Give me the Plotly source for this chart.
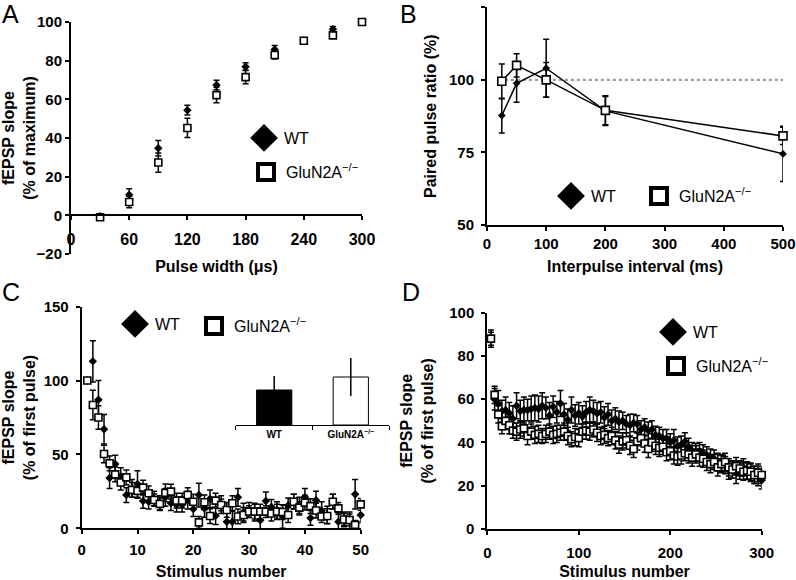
import plotly.graph_objects as go

# ---------------- data ----------------
# Panel A: input-output
pulse_width = [30, 60, 90, 120, 150, 180, 210, 240, 270, 300]
wt_a = [-0.5, 10.7, 34.7, 54.4, 67.4, 76.9, 85.8, 90.5, 96.2, 100]
wt_a_err = [1, 3, 4, 2.5, 2.5, 2, 2, 1, 1.5, 0]
glu_a = [-1, 6.9, 27.3, 45.2, 62.2, 71.5, 82.9, 90.3, 93.1, 100]
glu_a_err = [1, 3, 5, 5, 4, 3.5, 2, 1, 1.5, 0]

# Panel B: paired pulse ratio
ipi = [25, 50, 100, 200, 500]
wt_b = [87.7, 98.8, 104, 89.3, 74.5]
wt_b_err = [6, 6.5, 10, 5, 9.5]
glu_b = [99.5, 105, 100, 89.5, 80.7]
glu_b_err = [6, 4, 6, 5, 3]
ppr_ref_x = [20, 500]
ppr_ref_level = 100

# Panel C: 50 stimuli
stim_c = list(range(1, 51))
wt_c = [100, 113, 87, 67, 34, 43.5, 35, 22.5, 27, 30,
        18.5, 18, 20, 17, 21, 17, 16, 16, 19, 13,
        22.5, 13.5, 20, 8.5, 16, 4.5, 4.5, 21, 11, 12.5,
        11, 5.5, 18.5, 14.5, 12, 8, 15.5, 18, 15, 21,
        7, 19, 12, 9, 18, 4.5, 6, 5, 23, 9]
wt_c_err = [0, 14, 13, 10, 7, 6, 6, 5, 6, 9,
            5, 5, 5, 5, 6, 5, 5, 5, 6, 5,
            8, 6, 6, 6, 6, 6, 7, 6, 6, 5,
            6, 7, 6, 5, 6, 8, 5, 5, 6, 6,
            5, 6, 6, 6, 5, 6, 5, 6, 10, 5]
glu_c = [100, 83.5, 75, 50.3, 44, 36.5, 31, 34.5, 26, 25.3,
         27.5, 23.7, 19.2, 16.5, 24, 24.8, 18.7, 18.7, 22.5, 18,
         4, 17.6, 8.3, 18.7, 15.8, 12.4, 17, 8, 9, 11.3,
         11.3, 11.3, 11.3, 10, 11.3, 11, 9, 18, 14, 17.4,
         15, 12, 8, 8.3, 18, 13.5, 6, 5.6, 2.3, 16.2]
glu_c_err = [0, 10, 8, 6, 5, 5, 5, 5, 5, 5,
             5, 5, 4, 4, 6, 5, 5, 5, 5, 5,
             4, 5, 5, 5, 4, 5, 5, 5, 5, 4,
             5, 5, 4, 5, 5, 5, 5, 5, 4, 5,
             5, 5, 4, 5, 5, 4, 4, 4, 3, 4]

# Panel C inset
inset_groups = ["WT", "GluN2A<sup>−/−</sup>"]
inset_values = [3.5, 4.8]
inset_err = [1.4, 1.9]

# Panel D: 300 stimuli (binned)
stim_d = list(range(4, 301, 4))
wt_d = [88, 60, 58, 54.5, 55, 53.5, 51, 57, 54.5, 55,
        55, 55.5, 56, 55.5, 57, 56, 52.5, 56.5, 54, 58,
        53, 50.5, 55, 52.5, 53.5, 52, 54, 55, 54.5, 53.5,
        54, 51.5, 53, 50, 51, 49.5, 50, 48.5, 48, 49,
        48.5, 46, 47, 45.5, 46, 43.5, 43, 42, 42, 40,
        41, 38.5, 39, 40.5, 38, 36, 35.5, 36, 35, 34,
        33, 32.5, 31, 30.5, 29.5, 27, 27.5, 26, 27, 28.5,
        27, 26, 25, 24, 22.5]
wt_d_err = [4, 5, 6, 5, 6, 5, 6, 6, 5, 6, 5, 6, 6, 6, 6,
            5, 6, 5, 5, 6, 5, 5, 6, 5, 5, 5, 5, 6, 5, 5,
            5, 5, 5, 5, 5, 5, 4, 4, 5, 4, 4, 4, 4, 4, 4,
            4, 4, 4, 4, 4, 5, 4, 4, 4, 4, 4, 4, 4, 4, 4,
            4, 4, 4, 4, 4, 4, 4, 5, 4, 4, 4, 4, 4, 4, 4]
glu_d = [88, 62, 53, 47.5, 50, 48, 45.5, 45, 46, 46.5,
         43, 45, 43.5, 44, 43, 44, 45, 43.5, 44, 44.5,
         45, 43, 41.5, 42.5, 42, 45, 45.5, 45, 46, 44.5,
         43, 43.5, 42, 43, 41, 39, 40.5, 41, 38.5, 37,
         40.5, 42, 39.5, 37, 40, 38.5, 37.5, 38, 35.5, 36,
         34, 33.5, 34, 35, 34.5, 33, 34.5, 33, 32.5, 31,
         30, 31, 28.5, 30, 31, 28.5, 27.5, 29, 28, 26.5,
         27, 26.5, 25, 26, 25]
glu_d_err = [3, 4, 4, 3.5, 4, 4, 3.5, 4, 4, 3.5, 4, 3.5, 4, 4, 3.5,
             4, 3.5, 4, 4, 3.5, 4, 4, 3.5, 4, 4, 3.5, 4, 4, 3.5, 4,
             4, 4, 3.5, 4, 4, 4, 4, 3.5, 4, 4, 4, 3.5, 4, 4, 4,
             4, 4, 3.5, 4, 4, 4, 4, 4, 3.5, 4, 4, 4, 4, 4, 4,
             4, 3.5, 4, 4, 4, 4, 4, 4, 3.5, 4, 4, 4, 4, 4, 4]

WT_NAME = "WT"
GLU_NAME = "GluN2A<sup>−/−</sup>"

# ---------------- style ----------------
W, H = 796, 580
FONT = "Liberation Sans, Arial, sans-serif"


def fx(p):
    return p / W


def fy(p):
    return 1 - p / H


def err(arr, w=3):
    return dict(type="data", array=arr, visible=True, color="black",
                thickness=1.5, width=w)


fig = go.Figure()


def add_pair(x, wt, wt_e, glu, glu_e, xa, ya, dsize, ssize, mode="markers"):
    fig.add_trace(go.Scatter(
        x=x, y=wt, mode=mode, xaxis=xa, yaxis=ya, showlegend=False,
        cliponaxis=False, line=dict(color="black", width=1.5),
        marker=dict(symbol="diamond", size=dsize, color="black"),
        error_y=err(wt_e)))
    fig.add_trace(go.Scatter(
        x=x, y=glu, mode=mode, xaxis=xa, yaxis=ya, showlegend=False,
        cliponaxis=False, line=dict(color="black", width=1.5),
        marker=dict(symbol="square", size=ssize, color="white",
                    line=dict(color="black", width=1.6)),
        error_y=err(glu_e)))


def add_legend_pair(xa, ya, leg_wt, leg_glu):
    fig.add_trace(go.Scatter(
        x=[None], y=[None], mode="markers", xaxis=xa, yaxis=ya,
        name=WT_NAME, legend=leg_wt,
        marker=dict(symbol="diamond", size=16, color="black",
                    line=dict(color="black", width=5))))
    fig.add_trace(go.Scatter(
        x=[None], y=[None], mode="markers", xaxis=xa, yaxis=ya,
        name=GLU_NAME, legend=leg_glu,
        marker=dict(symbol="square", size=16, color="white",
                    line=dict(color="black", width=4))))


# Panel A
add_pair(pulse_width, wt_a, wt_a_err, glu_a, glu_a_err, "x", "y", 6.5, 7)
add_legend_pair("x", "y", "legend", "legend2")

# Panel B
fig.add_trace(go.Scatter(
    x=ppr_ref_x, y=[ppr_ref_level] * len(ppr_ref_x), mode="lines",
    xaxis="x2", yaxis="y2", showlegend=False,
    line=dict(color="#9a9a9a", width=2.2, dash="dot")))
add_pair(ipi, wt_b, wt_b_err, glu_b, glu_b_err, "x2", "y2", 6, 8,
         mode="lines+markers")
add_legend_pair("x2", "y2", "legend3", "legend4")

# Panel C
add_pair(stim_c, wt_c, wt_c_err, glu_c, glu_c_err, "x3", "y3", 6.5, 7)
add_legend_pair("x3", "y3", "legend5", "legend6")
fig.add_trace(go.Bar(
    x=inset_groups, y=inset_values, xaxis="x5", yaxis="y5",
    showlegend=False, width=0.46,
    marker=dict(color=["black", "white"], line=dict(color="black", width=1)),
    error_y=dict(type="data", array=inset_err, color="black",
                 thickness=1.5, width=0)))

# Panel D
add_pair(stim_d, wt_d, wt_d_err, glu_d, glu_d_err, "x4", "y4", 6.5, 7)
add_legend_pair("x4", "y4", "legend7", "legend8")


def tf(size):
    return dict(family=FONT, size=size, color="black", weight="bold")


titlefont = tf(16)

base = dict(showline=True, linecolor="black", linewidth=2, ticks="outside",
            ticklen=4, tickwidth=1.5, tickcolor="black", showgrid=False,
            zeroline=False, automargin=False)


def ax(**kw):
    d = dict(base)
    d.update(kw)
    return d


layout = dict(
    width=W, height=H, margin=dict(l=0, r=0, t=0, b=0, autoexpand=False),
    plot_bgcolor="white", paper_bgcolor="white",
    font=dict(family=FONT, color="black"),
    # Panel A
    xaxis=ax(domain=[fx(71), fx(362)], range=[0, 300], tickvals=[0, 60, 120, 180, 240, 300],
             anchor="free", position=fy(215), ticklabelstandoff=6, tickfont=tf(16),
             title=dict(text="Pulse width (μs)", font=titlefont, standoff=13)),
    yaxis=ax(domain=[fy(254), fy(22)], range=[-20, 100], dtick=20, anchor="x",
             tickfont=tf(15),
             title=dict(text="fEPSP slope<br>(% of maximum)", font=titlefont, standoff=1)),
    # Panel B
    xaxis2=ax(domain=[fx(487), fx(783)], range=[0, 500], dtick=100, anchor="y2",
              ticklabelstandoff=0, tickfont=tf(15),
              title=dict(text="Interpulse interval (ms)", font=titlefont, standoff=10)),
    yaxis2=ax(domain=[fy(225), fy(7.3)], range=[50, 125], dtick=25, anchor="x2",
              ticklabelstandoff=4, tickfont=tf(15),
              title=dict(text="Paired pulse ratio (%)", font=titlefont, standoff=8)),
    # Panel C
    xaxis3=ax(domain=[fx(81.7), fx(360.7)], range=[0, 50], dtick=10, anchor="y3",
              ticklabelstandoff=3, tickfont=tf(15),
              title=dict(text="Stimulus number", font=titlefont, standoff=15)),
    yaxis3=ax(domain=[fy(528.3), fy(306.7)], range=[0, 150], dtick=50, anchor="x3",
              ticklabelstandoff=4, tickfont=tf(15),
              title=dict(text="fEPSP slope<br>(% of first pulse)", font=titlefont, standoff=8)),
    # Panel D
    xaxis4=ax(domain=[fx(487.3), fx(761.7)], range=[0, 300], dtick=100, anchor="y4",
              ticklabelstandoff=5, tickfont=tf(15),
              title=dict(text="Stimulus number", font=titlefont, standoff=13)),
    yaxis4=ax(domain=[fy(529), fy(312.7)], range=[0, 100], dtick=20, anchor="x4",
              ticklabelstandoff=4, tickfont=tf(15),
              title=dict(text="fEPSP slope<br>(% of first pulse)", font=titlefont, standoff=12)),
    # Inset in C
    xaxis5=dict(domain=[fx(235.9), fx(389.1)], type="category", range=[-0.5, 1.5],
                anchor="y5", showline=True, linecolor="black", linewidth=1.2,
                ticks="outside", ticklen=4, tickwidth=1.2, tickcolor="black",
                tickson="boundaries", showgrid=False, zeroline=False, automargin=False,
                tickfont=tf(10)),
    yaxis5=dict(domain=[fy(425), fy(340)], range=[0, 8.5], anchor="x5", visible=False,
                automargin=False),
)

leg_common = dict(bgcolor="rgba(0,0,0,0)", borderwidth=0, xanchor="left",
                  yanchor="middle", itemsizing="trace", itemwidth=30,
                  font=dict(family=FONT, size=16, color="black"))
leg_pos = {
    "legend": (244, 138), "legend2": (246, 172),
    "legend3": (551, 196), "legend4": (639, 196),
    "legend5": (115, 324), "legend6": (194, 326),
    "legend7": (653, 332), "legend8": (656, 366),
}
for name, (px, py) in leg_pos.items():
    d = dict(leg_common)
    d.update(x=fx(px), y=fy(py))
    layout[name] = d

letters = [("A", 0, -2), ("B", 398, -2), ("C", 0, 276), ("D", 400, 276)]
layout["annotations"] = [
    dict(text=t, x=fx(px), y=fy(py), xref="paper", yref="paper",
         xanchor="left", yanchor="top", showarrow=False,
         font=dict(family=FONT, size=25, color="black"))
    for t, px, py in letters
]

fig.update_layout(**layout)
fig.write_html("out.html", config={"displayModeBar": False},
               post_script="document.body.style.margin='0';document.body.style.padding='0';")
